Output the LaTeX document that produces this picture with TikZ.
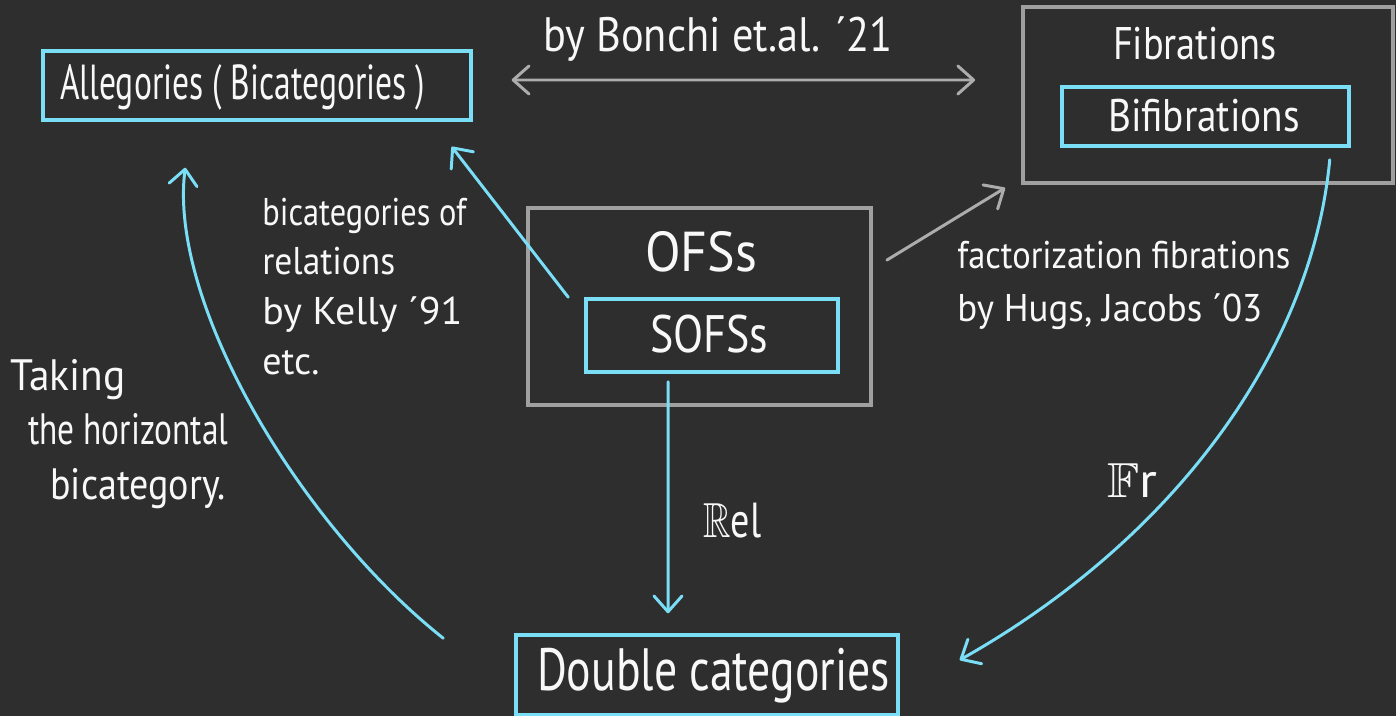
\documentclass[tikz,border=0pt]{standalone}
\usepackage{fontspec}
\setmainfont{PT Sans}
\usepackage{amssymb}
\usepackage{graphicx}
\usetikzlibrary{arrows.meta}

\definecolor{bg}{RGB}{46,46,46}
\definecolor{cyanline}{RGB}{122,222,246}
\definecolor{greyline}{RGB}{160,160,160}
\definecolor{greyarrow}{RGB}{172,172,172}
\definecolor{ink}{RGB}{248,248,248}

% squeeze a line of text to a given width, keeping its height
\newcommand\hw[2]{\resizebox{#1}{\height}{#2}}

\tikzset{
  box/.style={draw=cyanline, line width=2pt, inner sep=0pt, rectangle},
  frame/.style={draw=greyline, line width=2.2pt, inner sep=0pt, rectangle},
  txt/.style={text=ink, inner sep=0pt},
  barb/.tip={Straight Barb[length=9pt,width=16pt,line cap=round,line join=round]},
  link/.style={draw=cyanline, line width=1.7pt, line cap=round, -barb},
  glink/.style={draw=greyarrow, line width=1.7pt, line cap=round, -barb},
}

\begin{document}
\begin{tikzpicture}[x=0.02cm,y=-0.02cm]
  \useasboundingbox (0,0) rectangle (1396,716);
  \fill[bg] (0,0) rectangle (1396,716);

  % boxes
  \node[box,   minimum width=8.56cm, minimum height=1.38cm] (alleg) at (257,85.5)   {};
  \node[frame, minimum width=7.40cm, minimum height=3.52cm] (fib)   at (1208,95)    {};
  \node[box,   minimum width=5.74cm, minimum height=1.18cm] (bifib) at (1205.5,116.5) {};
  \node[frame, minimum width=6.86cm, minimum height=3.94cm] (ofs)   at (699.5,306.5) {};
  \node[box,   minimum width=5.04cm, minimum height=1.46cm] (sofs)  at (712,335.5)  {};
  \node[box,   minimum width=7.64cm, minimum height=1.60cm] (dbl)   at (707,675)    {};

  % box titles
  \node[txt, anchor=base, font=\fontsize{28}{28}\selectfont] (alleg-t) at (242.5,100)
    {\hw{7.3cm}{Allegories ( Bicategories )}};
  \node[txt, anchor=base, font=\fontsize{26}{26}\selectfont] (fib-t) at (1195,60)
    {\hw{3.28cm}{Fibrations}};
  \node[txt, anchor=base, font=\fontsize{26}{26}\selectfont] (bifib-t) at (1204,132)
    {\hw{3.84cm}{Bifibrations}};
  \node[txt, anchor=base, font=\fontsize{32}{32}\selectfont] (ofs-t) at (701,272)
    {\hw{2.24cm}{OFSs}};
  \node[txt, anchor=base, font=\fontsize{30}{30}\selectfont] (sofs-t) at (709,353)
    {\hw{2.36cm}{SOFSs}};
  \node[txt, anchor=base, font=\fontsize{34}{34}\selectfont] (dbl-t) at (713.5,690)
    {\hw{7.06cm}{Double categories}};

  % annotations
  \node[txt, anchor=base, font=\fontsize{27.5}{28}\selectfont] (bonchi) at (718,52)
    {\hw{7cm}{by Bonchi et.al. ´21}};
  \node[txt, anchor=base west, font=\fontsize{22}{28.35}\selectfont] (kelly) at (262,225)
    {\begin{tabular}[t]{@{}l@{}}
       \hw{4.08cm}{bicategories of}\\
       \hw{2.66cm}{relations}\\
       \hw{4cm}{by Kelly ´91}\\
       \hw{1.14cm}{etc.}
     \end{tabular}};
  \node[txt, anchor=base west, font=\fontsize{22}{30.6}\selectfont] (hughes) at (957,268)
    {\begin{tabular}[t]{@{}l@{}}
       \hw{6.66cm}{factorization fibrations}\\
       \hw{6.1cm}{by Hugs, Jacobs ´03}
     \end{tabular}};
  \node[txt, anchor=base west, font=\fontsize{25}{31.2}\selectfont] (taking) at (10,390)
    {\begin{tabular}[t]{@{}l@{}}
       \hw{2.3cm}{Taking}\\
       \hspace*{0.36cm}\hw{4cm}{the horizontal}\\
       \hspace*{0.8cm}\hw{3.5cm}{bicategory.}
     \end{tabular}};
  \node[txt, anchor=base west, font=\fontsize{28}{28}\selectfont] (rel) at (703,537)
    {\hw{1.16cm}{$\mathbb{R}$el}};
  \node[txt, anchor=base west, font=\fontsize{28}{28}\selectfont] (fr) at (1107,497)
    {\hw{1.0cm}{$\mathbb{F}$r}};

  % connectors
  \draw[glink, barb-barb] ([xshift=0.78cm,yshift=0.11cm]alleg.east)
    -- ([xshift=-0.92cm,yshift=0.3cm]fib.west);
  \draw[link] ([xshift=-0.32cm]sofs.north west)
    -- ([xshift=-0.42cm,yshift=-0.5cm]alleg.south east);
  \draw[glink] ([xshift=0.28cm,yshift=-1.08cm]ofs.north east)
    -- ([xshift=-0.32cm,yshift=-0.06cm]fib.south west);
  \draw[link] ([xshift=-0.88cm,yshift=-0.16cm]sofs.south)
    -- ([xshift=-0.78cm,yshift=0.4cm]dbl.north);
  \draw[link] ([xshift=-0.42cm,yshift=-0.24cm]bifib.south east)
    .. controls +(-18,192) and +(213,-120) .. ([xshift=1.2cm,yshift=0.3cm]dbl.east);
  \draw[link] ([xshift=-1.42cm,yshift=-0.1cm]dbl.north west)
    .. controls +(-145,-115) and +(-17,134) .. ([xshift=2.88cm,yshift=-0.92cm]alleg.south west);
\end{tikzpicture}
\end{document}
